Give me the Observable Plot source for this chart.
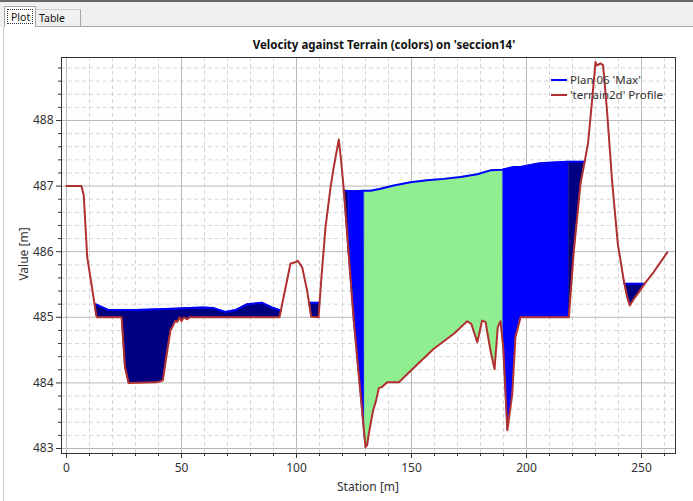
<!DOCTYPE html>
<html>
<head>
<meta charset="utf-8">
<script src="https://cdn.jsdelivr.net/npm/d3@7"></script>
<script src="https://cdn.jsdelivr.net/npm/@observablehq/plot@0.6"></script>
<style>
  html, body { margin: 0; padding: 0; background: #ffffff; }
  #page { position: relative; width: 693px; height: 501px; overflow: hidden; background: #ffffff;
          font-family: "Noto Sans", "Open Sans", sans-serif; color: #222; }
  #topline { position: absolute; left: 0; top: 0; width: 693px; height: 2px; background: #6a6a6a; }
  #tabrow { position: absolute; left: 0; top: 2px; width: 693px; height: 25px; background: #f0f0f0; }
  .tab { position: absolute; font-size: 10.5px; line-height: 14px; color: #111; white-space: nowrap; box-sizing: border-box; }
  #tabPlot { left: 4px; top: 6px; width: 32px; height: 21px; background: #ffffff; border: 1px solid #a8a8a8; border-bottom: none; }
  #tabPlot span { position: absolute; left: 2px; top: 2px; width: 26px; height: 15px; border: 1px dotted #333; box-sizing: border-box; padding-left: 3px; }
  #tabTable { left: 36px; top: 9px; width: 45px; height: 18px; border-right: 1px solid #a8a8a8; border-top: 1px solid #d0d0d0; padding-left: 3px; line-height: 16px; }
  #panelLeft { position: absolute; left: 3px; top: 27px; width: 1px; height: 474px; background: #c8c8c8; }
  #panelTop { position: absolute; left: 36px; top: 26px; width: 657px; height: 1px; background: #a8a8a8; }
  #chart { position: absolute; left: 0; top: 0; }
  .lbl { position: absolute; white-space: nowrap; transform: translate(-50%, -50%); }
  #title { left: 384px; top: 44px; font-weight: bold; font-size: 11.5px; color: #111; }
  #xlabel { left: 368px; top: 486px; font-size: 12px; color: #333; }
  #ylabel { left: 23px; top: 254px; font-size: 12px; color: #333; transform: translate(-50%, -50%) rotate(-90deg); }
  #legend { position: absolute; left: 551px; top: 72px; font-size: 11.5px; color: #333; }
  .legrow { display: flex; align-items: center; height: 15px; line-height: 15px; white-space: nowrap; }
  .sw { display: inline-block; width: 16px; height: 2px; margin-right: 3px; }
</style>
</head>
<body>
<div id="page">
  <div id="topline"></div>
  <div id="tabrow"></div>
  <div id="panelTop"></div>
  <div id="panelLeft"></div>
  <div class="tab" id="tabPlot"><span>Plot</span></div>
  <div class="tab" id="tabTable">Table</div>
  <div id="chart"></div>
  <div class="lbl" id="title">Velocity against Terrain (colors) on 'seccion14'</div>
  <div class="lbl" id="xlabel">Station [m]</div>
  <div class="lbl" id="ylabel">Value [m]</div>
  <div id="legend">
    <div class="legrow"><span class="sw" style="background:#0000ff"></span>Plan 06 'Max'</div>
    <div class="legrow"><span class="sw" style="background:#b03030"></span>'terrain2d' Profile</div>
  </div>
</div>
<script>
// ---- Terrain profile ('terrain2d' Profile) ----
const terrainStation = [0, 6.5, 7.5, 9, 13, 13.4, 24, 25.4, 27, 38.7, 40.5, 41.9, 43.8, 45.2, 46.7, 47.4, 48.1, 49.3, 50, 51, 52.5, 53.5,
  92.6, 97.4, 98.8, 100.6, 102.5, 104.6, 106.4, 109.6, 110.6, 112.6, 114.8, 116.2, 118.4, 119.4, 120.6, 124.9, 130, 130.7,
  131.4, 133.3, 134.6, 135.8, 137.3, 139.4, 144.5, 151, 159.7, 168.4, 174.2, 176, 178.6, 180.7, 182.2, 184.3, 186.1, 187.5,
  188.7, 189.9, 191.7, 193.8, 195.2, 197.4, 218.4, 220.6, 223.5, 226.7, 228.1, 230, 230.7, 232.2, 233.3, 235, 237.3, 239.7,
  242.3, 243.8, 244.9, 246.7, 248.8, 251.3, 255.3, 258.3, 261.2];
const terrainElev = [487.0, 487.0, 486.86, 485.92, 485.02, 485.0, 485.0, 484.25, 484.0, 484.01, 484.02, 484.04, 484.49, 484.8, 484.9, 484.95, 484.93, 485.0, 484.94, 485.0, 484.97, 485.0,
  485.0, 485.82, 485.83, 485.86, 485.76, 485.41, 485.01, 485.0, 485.5, 486.37, 486.98, 487.29, 487.71, 487.39, 486.93, 484.95, 483.02, 483.05,
  483.22, 483.58, 483.73, 483.92, 483.94, 484.01, 484.01, 484.23, 484.52, 484.75, 484.94, 484.9, 484.62, 484.95, 484.93, 484.5, 484.21, 484.85,
  484.94, 484.54, 483.28, 483.83, 484.7, 485.0, 485.0, 486.02, 487.04, 487.64, 488.15, 488.89, 488.84, 488.87, 488.84, 488.15, 487.04, 486.12,
  485.56, 485.31, 485.18, 485.28, 485.38, 485.51, 485.69, 485.84, 485.99];

// ---- Water surface (Plan 06 'Max'), by wet pool ----
const wsPool    = [1, 1, 1, 1, 1, 1, 1, 1, 1, 1, 1, 1,   2, 2,   3, 3, 3, 3, 3, 3, 3, 3, 3, 3, 3, 3, 3, 3, 3, 3, 3, 3,   4, 4];
const wsStation = [12.6, 18.4, 30, 46, 59, 64, 69.1, 73.5, 78.6, 85.1, 89.4, 93.3,   105.5, 110.0,
  120.6, 124.9, 129.3, 132.2, 136.5, 142.3, 149.6, 156.8, 164, 171.3, 178.6, 184.3, 189.4, 194.5, 197.4, 206, 217.7, 225.3,
  242.6, 251.3];
const wsElev    = [485.2, 485.11, 485.11, 485.13, 485.15, 485.14, 485.08, 485.11, 485.2, 485.22, 485.15, 485.1,   485.22, 485.22,
  486.93, 486.92, 486.93, 486.93, 486.96, 487.01, 487.06, 487.09, 487.11, 487.14, 487.18, 487.24, 487.25, 487.29, 487.29, 487.35, 487.37, 487.37,
  485.51, 485.51];

// ---- Velocity colour bands along the section ----
const bandPool  = [1, 2, 3, 3, 3, 3, 3, 4];
const bandFrom  = [12.6, 105.5, 120.6, 122.7, 129.7, 189.9, 218.4, 242.6];
const bandTo    = [93.3, 110.0, 122.7, 129.7, 189.9, 218.4, 225.3, 251.3];
const bandClass = ["low", "low", "low", "mid", "high", "mid", "low", "low"];
const velocityColor = {low: "#000080", mid: "#0000ff", high: "#90ee90"};

// ---- Axis ticks ----
const xTicks = [0, 50, 100, 150, 200, 250];
const yTicks = [483, 484, 485, 486, 487, 488];
const xMinor = d3.range(0, 261, 10).filter(v => v % 50 !== 0);
const yMinor = d3.range(0, 30).map(i => +(483 + i * 0.2).toFixed(1)).filter(v => v <= 488.9 && !Number.isInteger(v));

function interp(xs, ys, s) {
  const i = d3.bisectRight(xs, s);
  if (i <= 0) return ys[0];
  if (i >= xs.length) return ys[ys.length - 1];
  const t = (s - xs[i - 1]) / (xs[i] - xs[i - 1]);
  return ys[i - 1] + t * (ys[i] - ys[i - 1]);
}

const terrain = terrainStation.map((s, i) => ({s, z: terrainElev[i]}));
const surface = wsStation.map((s, i) => ({s, ws: wsElev[i], pool: wsPool[i]}));

// wet-area polygons between terrain and water surface, one per band
const wet = [];
bandFrom.forEach((a, k) => {
  const b = bandTo[k];
  const pts = surface.filter(d => d.pool === bandPool[k]);
  const px = pts.map(d => d.s), py = pts.map(d => d.ws);
  const stations = Array.from(new Set([a, b,
    ...terrainStation.filter(s => s > a && s < b),
    ...px.filter(s => s > a && s < b)])).sort((u, v) => u - v);
  for (const s of stations) {
    const top = interp(px, py, s);
    const bed = interp(terrainStation, terrainElev, s);
    wet.push({band: k, s, top, bottom: Math.min(bed, top), color: velocityColor[bandClass[k]]});
  }
});

const chart = Plot.plot({
  width: 693,
  height: 501,
  marginLeft: 61,
  marginRight: 18,
  marginTop: 57,
  marginBottom: 48,
  style: {fontFamily: "'Noto Sans', 'Open Sans', sans-serif", fontSize: "12px", color: "#333", background: "transparent"},
  x: {domain: [-2.17, 264.78]},
  y: {domain: [482.924, 488.96]},
  color: {type: "identity"},
  marks: [
    Plot.ruleX(xMinor, {stroke: "#d6d6d6", strokeDasharray: "4,3"}),
    Plot.ruleY(yMinor, {stroke: "#d6d6d6", strokeDasharray: "4,3"}),
    Plot.ruleX(xTicks, {stroke: "#b8b8b8"}),
    Plot.ruleY(yTicks, {stroke: "#b8b8b8"}),
    Plot.areaY(wet, {x: "s", y1: "bottom", y2: "top", z: "band", fill: "color", stroke: "color", strokeWidth: 0.5}),
    Plot.line(surface, {x: "s", y: "ws", z: "pool", stroke: "#0000ff", strokeWidth: 2}),
    Plot.line(terrain, {x: "s", y: "z", stroke: "#b03030", strokeWidth: 2}),
    Plot.frame({stroke: "#333"}),
    Plot.axisX(xTicks, {tickSize: 5, tickPadding: 5, tickFormat: d => String(d), label: null, fill: "#333"}),
    Plot.axisX(xMinor, {tickSize: 3, tickFormat: () => "", label: null}),
    Plot.axisY(yTicks, {tickSize: 5, tickPadding: 3, tickFormat: d => String(d), label: null, fill: "#333"}),
    Plot.axisY(yMinor, {tickSize: 3, tickFormat: () => "", label: null})
  ]
});
document.getElementById("chart").appendChild(chart);
</script>
</body>
</html>
